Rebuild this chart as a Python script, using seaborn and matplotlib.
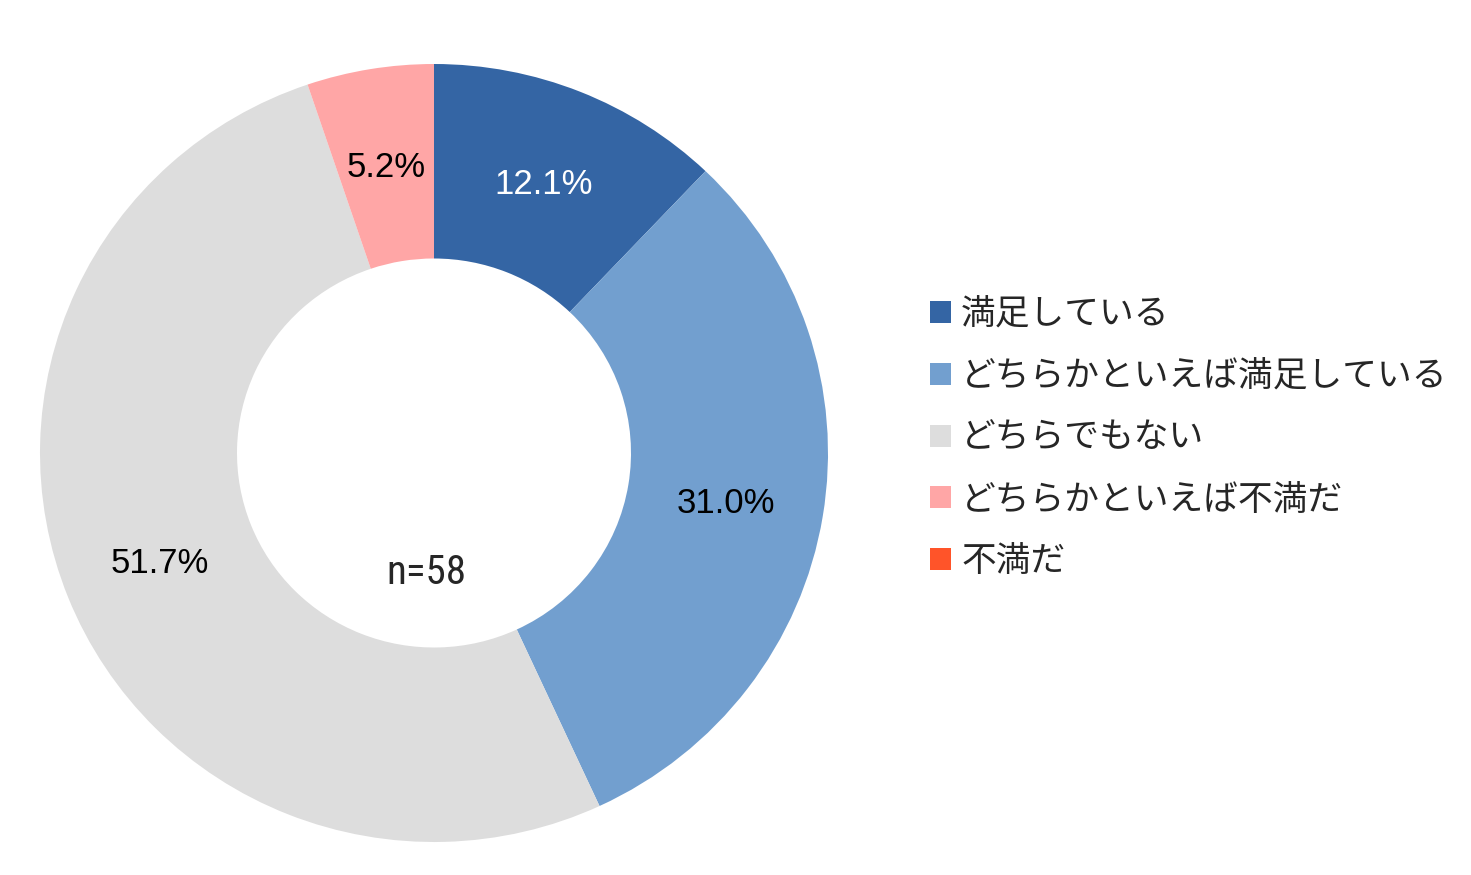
import matplotlib.pyplot as plt
import numpy as np
import seaborn as sns
from matplotlib.patches import Patch

categories = ["満足している", "どちらかといえば満足している", "どちらでもない", "どちらかといえば不満だ", "不満だ"]
shares = [12.1, 31.0, 51.7, 5.2, 0.0]
colors = ["#3465A4", "#729FCF", "#DDDDDD", "#FFA6A6", "#FF5429"]
label_colors = ["white", "black", "black", "black", "black"]
sample_label = "n=58"

sns.set_theme(style="white")
plt.rcParams["font.family"] = ["Liberation Sans", "Noto Sans CJK JP", "DejaVu Sans"]

fig = plt.figure(figsize=(14.71, 8.75), dpi=100)
ax = fig.add_axes([40 / 1471, 33 / 875, 788 / 1471, 778 / 875])

palette = sns.color_palette(colors)
wedges, _ = ax.pie(
    shares,
    colors=palette,
    startangle=90,
    counterclock=False,
    radius=1.0,
    wedgeprops={"width": 0.5, "linewidth": 0},
)
ax.set_aspect("auto")
ax.set_xlim(-1, 1)
ax.set_ylim(-1, 1)

# percentage labels at the middle of the ring
for w, val, tc in zip(wedges, shares, label_colors):
    if val <= 0:
        continue
    ang = np.deg2rad((w.theta1 + w.theta2) / 2)
    ax.text(0.75 * np.cos(ang), 0.75 * np.sin(ang) - 0.007, f"{val:.1f}%",
            ha="center", va="center", fontsize=25, color=tc, family=["Liberation Sans"])

ax.text(-0.02, -0.308, sample_label, ha="center", va="center", fontsize=29.5,
        family=["Roboto Condensed", "DejaVu Sans"], fontstretch="condensed")

handles = [Patch(facecolor=c, edgecolor="none") for c in colors]
fig.legend(handles, categories, loc="center left", bbox_to_anchor=(930 / 1471, 0.499),
           frameon=False, prop={"family": ["Noto Sans CJK JP"], "size": 25},
           handlelength=0.6, handleheight=0.6, handletextpad=0.3,
           labelspacing=0.77, borderpad=0, borderaxespad=0)

fig.savefig("out.png", dpi=100)
